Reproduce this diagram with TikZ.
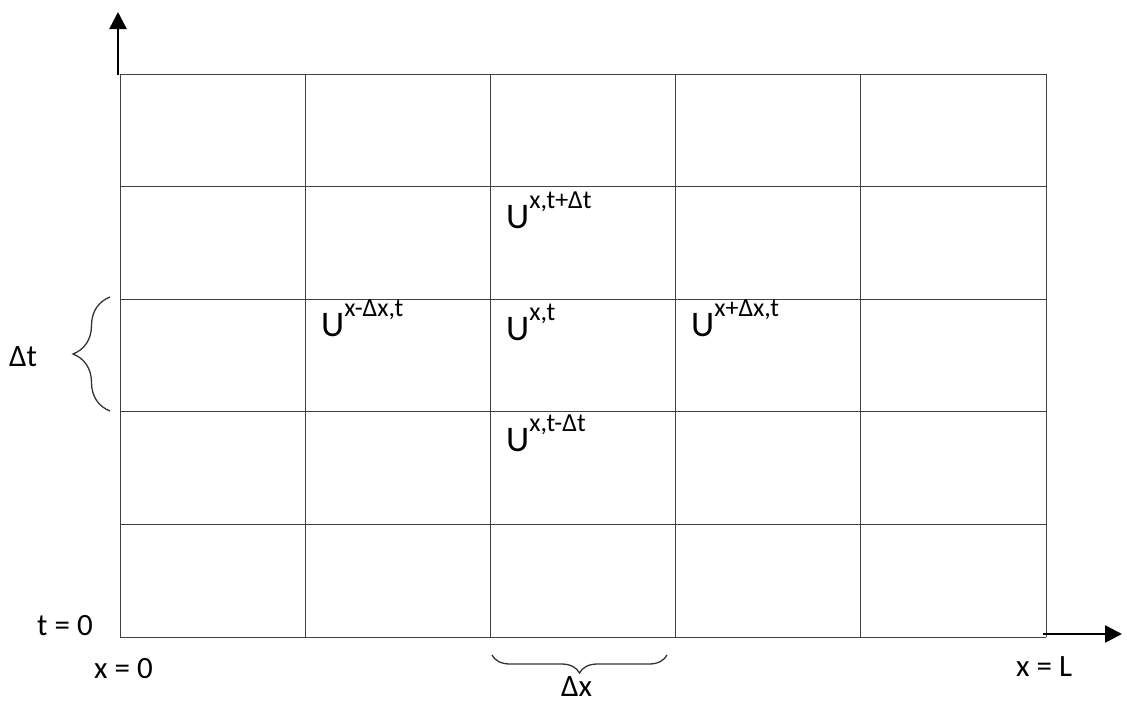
\documentclass[tikz,border=0pt]{standalone}
\usepackage{fontspec}
\setmainfont{Carlito}
\usetikzlibrary{arrows.meta,decorations.pathreplacing}

\newcommand{\ulab}[1]{{\fontsize{36}{36}\selectfont U}{\fontsize{26}{26}\selectfont\raisebox{20pt}{#1}}}

\begin{document}
\begin{tikzpicture}[x=1pt,y=-1pt,
    gridline/.style={draw=black!75,line width=1pt},
    axis/.style={line width=2.5pt,-{Triangle[length=17pt,width=17pt]}},
    bracket/.style={draw=black!80,line width=1.3pt,decorate},
    ulabel/.style={anchor=base west,inner sep=0pt},
    endlabel/.style={anchor=base west,inner sep=0pt,font=\fontsize{31}{31}\selectfont}]
    \useasboundingbox (0,0) rectangle (1127,704);
    % grid
    \foreach \k in {0,...,5}{
        \draw[gridline] ({120+185.2*\k},74) -- ({120+185.2*\k},637);
        \draw[gridline] (120,{74+112.6*\k}) -- (1046,{74+112.6*\k});
    }
    % axes
    \coordinate (torig) at (118,75);
    \coordinate (ttip) at (118,12);
    \coordinate (xorig) at (1043,634);
    \coordinate (xtip) at (1122,634);
    \draw[axis] (torig) -- (ttip);
    \draw[axis] (xorig) -- (xtip);
    % braces
    \draw[bracket,decoration={brace,amplitude=37pt}] (110,411) -- (110,297);
    \draw[bracket,decoration={brace,amplitude=18pt}] (667,655) -- (492,655);
    % labels
    \node[ulabel] (up) at (506,228) {\ulab{x,t+Δt}};
    \node[ulabel] (mid) at (506,340) {\ulab{x,t}};
    \node[ulabel] (left) at (321,336) {\ulab{x-Δx,t}};
    \node[ulabel] (right) at (691,336) {\ulab{x+Δx,t}};
    \node[ulabel] (down) at (506,451) {\ulab{x,t-Δt}};
    \node[endlabel] (dt) at (9,366) {Δt};
    \node[endlabel] (dx) at (561,696) {Δx};
    \node[endlabel] (t0) at (37,635) {t = 0};
    \node[endlabel] (x0) at (94,678) {x = 0};
    \node[endlabel] (xL) at (1016,676) {x = L};
\end{tikzpicture}
\end{document}
